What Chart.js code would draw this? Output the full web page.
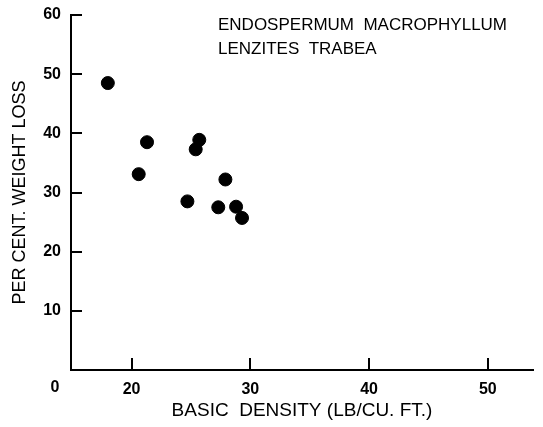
<!DOCTYPE html>
<html>
<head>
<meta charset="utf-8">
<script src="https://cdn.jsdelivr.net/npm/chart.js@4"></script>
<style>
  html, body { margin: 0; padding: 0; background: #ffffff; }
  #wrap { width: 543px; height: 427px; }
</style>
</head>
<body>
<div id="wrap"><canvas id="c" width="543" height="427"></canvas></div>
<script>
// Data
const basicDensity = [18.0, 21.3, 20.6, 24.7, 25.7, 25.4, 27.9, 27.3, 28.8, 29.3];
const weightLoss   = [48.5, 38.5, 33.1, 28.5, 38.9, 37.3, 32.2, 27.5, 27.6, 25.7];
const xTickValues  = [20, 30, 40, 50];
const yTickValues  = [10, 20, 30, 40, 50, 60];
const titleLines   = ['ENDOSPERMUM  MACROPHYLLUM', 'LENZITES  TRABEA'];
const originLabel  = '0';
const xTitle = 'BASIC  DENSITY (LB/CU. FT.)';
const yTitle = 'PER CENT. WEIGHT LOSS';

const FONT = '"Liberation Sans", Arial, sans-serif';

const points = basicDensity.map((x, i) => ({ x: x, y: weightLoss[i] }));

const decor = {
  id: 'decor',
  afterDraw(chart) {
    const ctx = chart.ctx;
    const xs = chart.scales.x, ys = chart.scales.y;
    const left = chart.chartArea.left, bottom = chart.chartArea.bottom;
    ctx.save();
    ctx.strokeStyle = '#000';
    ctx.lineWidth = 2;
    ctx.lineCap = 'butt';
    // inward ticks on y axis
    yTickValues.forEach(v => {
      const py = Math.round(ys.getPixelForValue(v));
      ctx.beginPath();
      ctx.moveTo(left, py);
      ctx.lineTo(left + 11, py);
      ctx.stroke();
    });
    // inward ticks on x axis
    xTickValues.forEach(v => {
      const px = Math.round(xs.getPixelForValue(v));
      ctx.beginPath();
      ctx.moveTo(px, bottom);
      ctx.lineTo(px, bottom - 12);
      ctx.stroke();
    });
    // origin label
    ctx.fillStyle = '#000';
    ctx.font = 'bold 16px ' + FONT;
    ctx.textAlign = 'center';
    ctx.textBaseline = 'middle';
    ctx.fillText(originLabel, 55, 388);
    // title text block
    ctx.font = '17px ' + FONT;
    ctx.textAlign = 'left';
    ctx.textBaseline = 'alphabetic';
    ctx.fillText(titleLines[0], 218, 30);
    ctx.fillText(titleLines[1], 218, 54);
    ctx.restore();
  }
};

new Chart(document.getElementById('c'), {
  type: 'scatter',
  data: {
    datasets: [{
      data: points,
      backgroundColor: '#000',
      borderColor: '#000',
      pointRadius: 6.5,
      pointHoverRadius: 6.5,
      clip: false
    }]
  },
  options: {
    responsive: false,
    animation: false,
    events: [],
    layout: { padding: { top: 15, right: 10, left: 0, bottom: 0 } },
    plugins: { legend: { display: false }, tooltip: { enabled: false } },
    scales: {
      x: {
        type: 'linear',
        min: 14.9,
        max: 53.8,
        afterBuildTicks: s => { s.ticks = xTickValues.map(v => ({ value: v })); },
        afterFit: s => { s.height = 57; s.paddingLeft = 0; s.paddingRight = 0; },
        grid: { display: false, drawTicks: false },
        border: { display: true, color: '#000', width: 2 },
        ticks: { color: '#000', padding: 10, font: { family: FONT, size: 16, weight: 'bold' } },
        title: {
          display: true, text: xTitle, color: '#000',
          font: { family: FONT, size: 19 },
          padding: { top: 0, bottom: 5 }
        }
      },
      y: {
        type: 'linear',
        min: 0,
        max: 60,
        afterBuildTicks: s => { s.ticks = yTickValues.map(v => ({ value: v })); },
        afterFit: s => { s.width = 71; s.paddingTop = 0; s.paddingBottom = 0; },
        grid: { display: false, drawTicks: false },
        border: { display: true, color: '#000', width: 2 },
        ticks: { color: '#000', padding: 10, font: { family: FONT, size: 16, weight: 'bold' } },
        title: {
          display: true, text: yTitle, color: '#000',
          font: { family: FONT, size: 18 },
          padding: { top: 9, bottom: 0 }
        }
      }
    }
  },
  plugins: [decor]
});
</script>
</body>
</html>
